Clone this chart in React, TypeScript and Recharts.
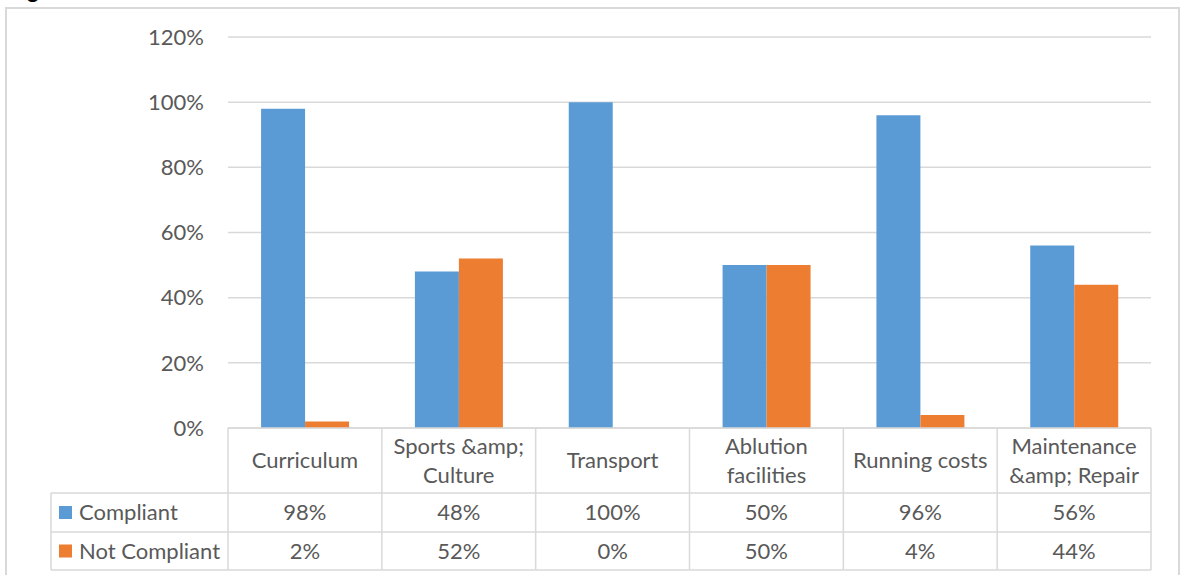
import React from 'react';
import { BarChart, Bar, XAxis, YAxis, CartesianGrid } from 'recharts';

const categories = [
  'Curriculum',
  'Sports &amp;\nCulture',
  'Transport',
  'Ablution\nfacilities',
  'Running costs',
  'Maintenance\n&amp; Repair',
];
const compliant = [98, 48, 100, 50, 96, 56];
const notCompliant = [2, 52, 0, 50, 4, 44];
const yTicks = [0, 20, 40, 60, 80, 100, 120];

const series = [
  { key: 'compliant', label: 'Compliant', color: '#5B9BD5', values: compliant },
  { key: 'notCompliant', label: 'Not Compliant', color: '#ED7D31', values: notCompliant },
];

const data = categories.map((name, i) => ({
  name,
  compliant: compliant[i],
  notCompliant: notCompliant[i],
}));

const W = 1184;
const H = 575;
const MARGIN = { top: 37, right: 33, bottom: 0, left: 0 };
const Y_AXIS_W = 228;
const TABLE_H = 147;
const PLOT_W = W - MARGIN.left - MARGIN.right - Y_AXIS_W;

// data table rows below the axis
const HEADER_H = 65;
const ROW_H = [39, 38];
const LEGEND_LEFT = 51;

const GRID = '#D9D9D9';
const TEXT = '#595959';
const FONT = 'Lato, "Open Sans", sans-serif';
const FONT_SIZE = 22;

const fmt = (v: number) => `${v}%`;

function TableTick(props: any) {
  const { x, y, payload, index, width } = props;
  const band = (width || PLOT_W) / categories.length;
  const left = x - band / 2;
  const right = x + band / 2;
  const lines = String(payload.value).split('\n');
  const headerMid = y + HEADER_H / 2;
  const lineGap = 29;
  const row1Top = y + HEADER_H;
  const row2Top = row1Top + ROW_H[0];
  const bottom = row2Top + ROW_H[1];
  const rowMids = [row1Top + ROW_H[0] / 2, row2Top + ROW_H[1] / 2];
  const textProps = {
    fill: TEXT,
    fontSize: FONT_SIZE,
    fontFamily: FONT,
    textAnchor: 'middle' as const,
    dy: '0.35em',
  };

  return (
    <g>
      {lines.map((ln, i) => (
        <text key={i} x={x} y={headerMid + (i - (lines.length - 1) / 2) * lineGap} {...textProps}>
          {ln}
        </text>
      ))}
      {series.map((s, r) => (
        <text key={s.key} x={x} y={rowMids[r]} {...textProps}>
          {fmt(s.values[index])}
        </text>
      ))}
      <line x1={right} x2={right} y1={y} y2={bottom} stroke={GRID} strokeWidth={1.5} />
      <line x1={left} x2={right} y1={row1Top} y2={row1Top} stroke={GRID} strokeWidth={1.5} />
      <line x1={left} x2={right} y1={row2Top} y2={row2Top} stroke={GRID} strokeWidth={1.5} />
      <line x1={left} x2={right} y1={bottom} y2={bottom} stroke={GRID} strokeWidth={1.5} />
      {index === 0 && (
        <g>
          <line x1={left} x2={left} y1={y} y2={bottom} stroke={GRID} strokeWidth={1.5} />
          <line x1={LEGEND_LEFT} x2={LEGEND_LEFT} y1={row1Top} y2={bottom} stroke={GRID} strokeWidth={1.5} />
          <line x1={LEGEND_LEFT} x2={left} y1={row1Top} y2={row1Top} stroke={GRID} strokeWidth={1.5} />
          <line x1={LEGEND_LEFT} x2={left} y1={row2Top} y2={row2Top} stroke={GRID} strokeWidth={1.5} />
          <line x1={LEGEND_LEFT} x2={left} y1={bottom} y2={bottom} stroke={GRID} strokeWidth={1.5} />
          {series.map((s, r) => (
            <g key={s.key}>
              <rect x={LEGEND_LEFT + 8} y={rowMids[r] - 6.5} width={13} height={13} fill={s.color} />
              <text
                x={LEGEND_LEFT + 28}
                y={rowMids[r]}
                dy="0.35em"
                fill={TEXT}
                fontSize={FONT_SIZE}
                fontFamily={FONT}
              >
                {s.label}
              </text>
            </g>
          ))}
        </g>
      )}
    </g>
  );
}

export default function App() {
  return (
    <div
      style={{
        position: 'absolute',
        left: 0,
        top: 0,
        width: W,
        height: H,
        overflow: 'hidden',
        background: '#fff',
      }}
    >
      <BarChart width={W} height={H} data={data} margin={MARGIN} barCategoryGap="21.5%" barGap={0}>
        <CartesianGrid vertical={false} stroke={GRID} strokeWidth={1.5} />
        <YAxis
          width={Y_AXIS_W}
          domain={[0, 120]}
          ticks={yTicks}
          tickFormatter={fmt}
          axisLine={false}
          tickLine={false}
          tickSize={0}
          tickMargin={24}
          tick={{ fill: TEXT, fontSize: FONT_SIZE, fontFamily: FONT }}
        />
        <XAxis
          dataKey="name"
          height={TABLE_H}
          interval={0}
          tickLine={false}
          tickSize={0}
          tickMargin={0}
          axisLine={{ stroke: GRID, strokeWidth: 1.5 }}
          tick={<TableTick />}
        />
        {series.map((s) => (
          <Bar key={s.key} dataKey={s.key} name={s.label} fill={s.color} isAnimationActive={false} />
        ))}
      </BarChart>
      <svg
        width={W}
        height={H}
        style={{ position: 'absolute', left: 0, top: 0, pointerEvents: 'none', overflow: 'hidden' }}
      >
        <rect x={6} y={8} width={1173} height={700} fill="none" stroke={GRID} strokeWidth={2} />
        <text x={9} y={-2} fontSize={22} fontWeight="bold" fontFamily={FONT} fill="#000">
          Figure
        </text>
      </svg>
    </div>
  );
}
